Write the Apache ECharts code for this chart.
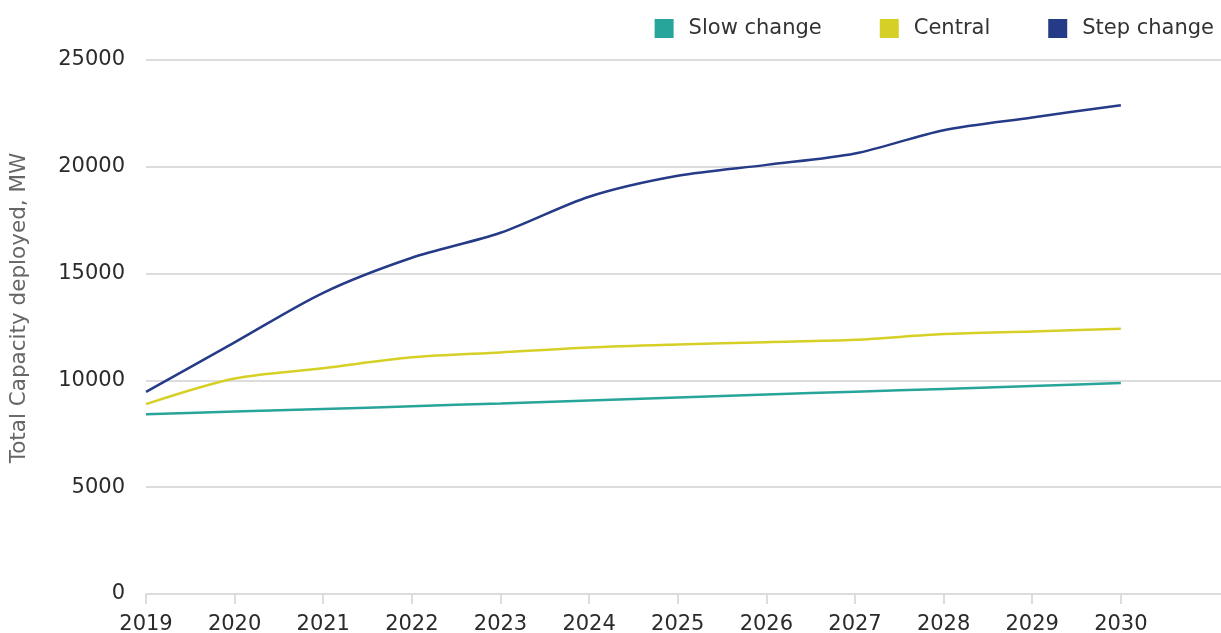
<!DOCTYPE html>
<html>
<head>
<meta charset="utf-8">
<script src="https://cdn.jsdelivr.net/npm/echarts@6/dist/echarts.min.js"></script>
<style>
  html, body { margin: 0; padding: 0; background: #fff; }
  #main { width: 1221px; height: 633px; }
</style>
</head>
<body>
<div id="main"></div>
<script>
  // values
  const years = [2019, 2020, 2021, 2022, 2023, 2024, 2025, 2026, 2027, 2028, 2029, 2030]
  const slowChange = [8410, 8540, 8660, 8790, 8920, 9060, 9200, 9340, 9470, 9600, 9740, 9875]
  const central = [8890, 10090, 10570, 11080, 11310, 11540, 11680, 11790, 11900, 12170, 12290, 12420]
  const stepChange = [9460, 11780, 14100, 15740, 16910, 18600, 19580, 20090, 20620, 21715, 22310, 22885]
  const yTicks = [0, 5000, 10000, 15000, 20000, 25000]

  const font = 'DejaVu Sans'
  const pairs = vals => years.map((y, i) => [y, vals[i]])

  const line = (name, color, vals) => ({
    name: name,
    type: 'line',
    data: pairs(vals),
    smooth: 0.3,
    symbol: 'none',
    lineStyle: { color: color, width: 2.5 },
    itemStyle: { color: color }
  })

  const option = {
    animation: false,
    backgroundColor: '#fff',
    textStyle: { fontFamily: font },
    legend: {
      right: 2,
      top: 13,
      icon: 'rect',
      itemWidth: 19,
      itemHeight: 19,
      itemGap: 58,
      textStyle: { fontSize: 21, color: '#333', fontFamily: font, padding: [0, 0, 0, 10] },
      data: ['Slow change', 'Central', 'Step change']
    },
    grid: { left: 146, right: 0, top: 60, bottom: 39, outerBoundsMode: 'none' },
    xAxis: {
      type: 'value',
      min: years[0],
      max: 2031.13,
      interval: 1,
      axisLine: { lineStyle: { color: '#dcdcdc', width: 2 } },
      axisTick: { length: 10, lineStyle: { color: '#dcdcdc', width: 2 }, customValues: years },
      axisLabel: { customValues: years, formatter: v => String(v), fontSize: 21, color: '#2b2b2b', margin: 20, fontFamily: font },
      splitLine: { show: false }
    },
    yAxis: {
      type: 'value',
      min: yTicks[0],
      max: yTicks[yTicks.length - 1],
      interval: 5000,
      name: 'Total Capacity deployed, MW',
      nameLocation: 'middle',
      nameGap: 116,
      nameTextStyle: { fontSize: 21.5, color: '#666', fontFamily: font, padding: [0, 0, 0, 38] },
      axisLine: { show: false },
      axisTick: { show: false },
      axisLabel: { formatter: v => String(v), fontSize: 21, color: '#2b2b2b', margin: 21, fontFamily: font },
      splitLine: { lineStyle: { color: '#dcdcdc', width: 2 } }
    },
    series: [
      line('Slow change', '#27a59a', slowChange),
      line('Central', '#d6d026', central),
      line('Step change', '#253b87', stepChange)
    ]
  }

  const myChart = echarts.init(document.getElementById('main'))
  myChart.setOption(option)
</script>
</body>
</html>
